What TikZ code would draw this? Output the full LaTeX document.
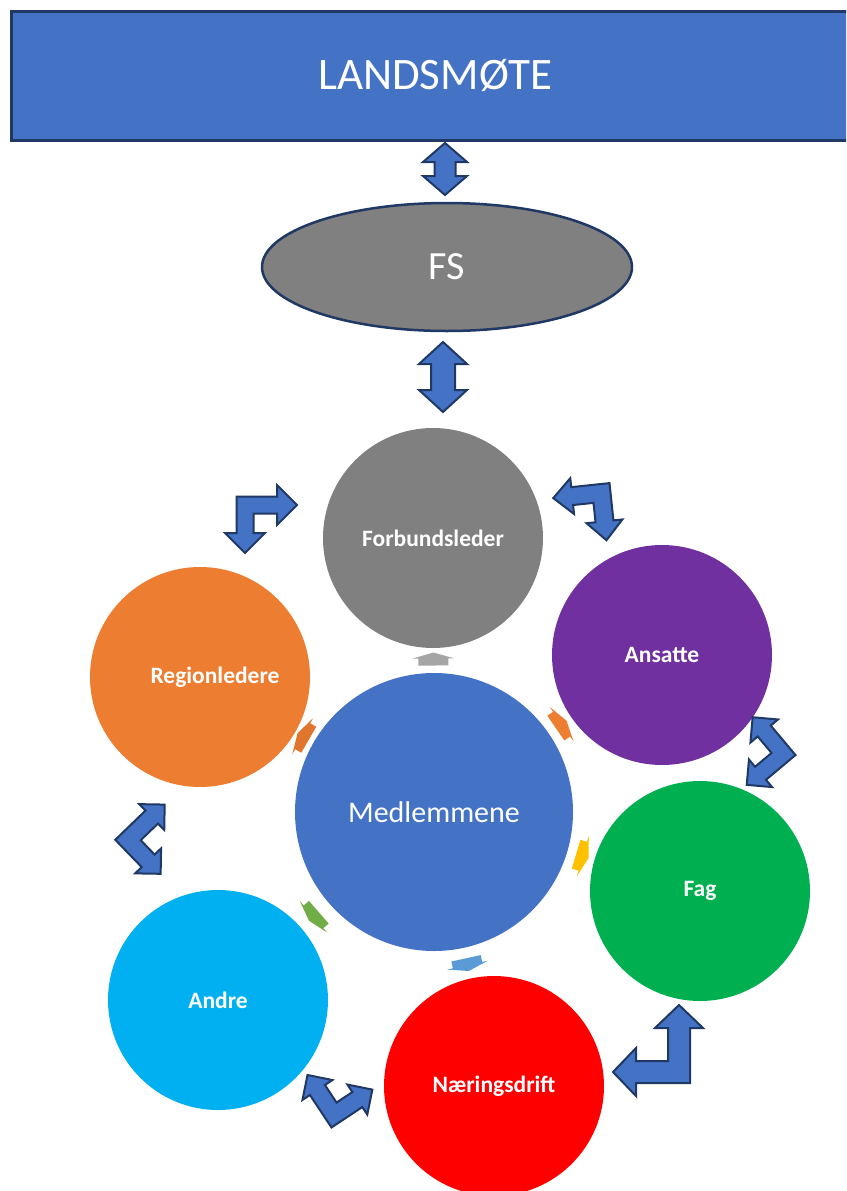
\documentclass[tikz,border=0pt]{standalone}
\usepackage{fontspec}
\setmainfont{Carlito}
\usetikzlibrary{calc,shapes.geometric}
\definecolor{acc}{HTML}{4472C4}
\definecolor{navy}{HTML}{203864}
\definecolor{fsgray}{HTML}{808080}
\definecolor{cgray}{HTML}{808080}
\definecolor{cpurple}{HTML}{7030A0}
\definecolor{cgreen}{HTML}{00B050}
\definecolor{cred}{HTML}{FF0000}
\definecolor{ccyan}{HTML}{00B0F0}
\definecolor{corange}{HTML}{ED7D31}
\definecolor{sgray}{HTML}{A5A5A5}
\definecolor{sorange}{HTML}{ED7D31}
\definecolor{syellow}{HTML}{FFC000}
\definecolor{sblue}{HTML}{5B9BD5}
\definecolor{sgreen}{HTML}{70AD47}
\definecolor{sorange2}{HTML}{E0762E}
\newcommand\dblarrow[6]{% cx, ytop, ybot, w, h, k
  \draw[blk] (#1,#2) -- (#1+#5,#2+#6) -- (#1+#4,#2+#6) -- (#1+#4,#3-#6) -- (#1+#5,#3-#6) -- (#1,#3)
    -- (#1-#5,#3-#6) -- (#1-#4,#3-#6) -- (#1-#4,#2+#6) -- (#1-#5,#2+#6) -- cycle;}
\newcommand\bentarrow[8]{% corner, angle u, angle v, L1, L2, w, h, k
  \begin{scope}[shift={#1}, x={(#2:1pt)}, y={(#3:1pt)}]
  \draw[blk] (-#6,-#6) -- (#4-#8,-#6) -- (#4-#8,-#7) -- (#4,0) -- (#4-#8,#7) -- (#4-#8,#6)
    -- (#6,#6) -- (#6,#5-#8) -- (#7,#5-#8) -- (0,#5) -- (-#7,#5-#8) -- (-#6,#5-#8) -- cycle;
  \end{scope}}
\newcommand\radarrow[3]{% target node, target radius, colour
  \pgfmathanglebetweenpoints{\pgfpointanchor{M}{center}}{\pgfpointanchor{#1}{center}}%
  \let\raang\pgfmathresult
  \coordinate (ra1) at ($(M.center)!139pt!(#1.center)$);
  \coordinate (ra2) at ($(#1.center)!#2pt!(M.center)$);
  \begin{scope}[shift={($(ra1)!0.5!(ra2)$)}, rotate=\raang]
  \fill[#3] (-5,-15) -- (2,-15) -- (2,-21) -- (8,0) -- (2,21) -- (2,15) -- (-5,15) -- cycle;
  \end{scope}}
\begin{document}
\begin{tikzpicture}[x=1pt,y=-1pt,
  blk/.style={fill=acc,draw=navy,line width=2pt,line join=miter},
  circ/.style={circle,inner sep=0pt,minimum size=220pt,draw=none},
  lbl/.style={text=white,font=\bfseries\fontsize{23.5}{28}\selectfont}]
\useasboundingbox (0,0) rectangle (846,1191);
\begin{scope}
\clip (0,0) rectangle (846,1191);
\node[rectangle,draw=navy,fill=acc,line width=3pt,minimum width=849pt,minimum height=129pt,
  text=white,font=\fontsize{45}{54}\selectfont] (LM) at (435.5,75.5) {LANDSMØTE};
\node[ellipse,draw=navy,fill=fsgray,line width=2.5pt,minimum width=370pt,minimum height=128pt,
  text=white,font=\fontsize{40}{48}\selectfont] (FS) at (447,267) {FS};
\node[circ,fill=cgray,lbl] (F) at (433,538) {Forbundsleder};
\node[circ,fill=cpurple,lbl] (A) at (662,655) {Ansatte};
\node[circ,fill=cgreen,lbl] (Fa) at (700,891) {Fag};
\node[circ,fill=cred,lbl] (N) at (494,1086) {Næringsdrift};
\node[circ,fill=ccyan,lbl] (An) at (218,1000) {Andre};
\node[circ,fill=corange] (R) at (200,677) {};
\node[lbl] (Rt) at (215,677) {Regionledere};
\node[circle,inner sep=0pt,minimum size=278pt,fill=acc,text=white,font=\fontsize{30}{36}\selectfont] (M) at (434,812) {Medlemmene};
\radarrow{F}{110}{sgray}
\radarrow{A}{110}{sorange}
\radarrow{Fa}{110}{syellow}
\radarrow{N}{110}{sblue}
\radarrow{An}{110}{sgreen}
\radarrow{R}{110}{sorange2}
\dblarrow{445}{143}{195}{10.5}{22}{19}
\dblarrow{443}{342}{412}{12}{24}{22}
\bentarrow{(245,505)}{0}{-90}{52}{48}{8.5}{20}{20}
\bentarrow{(601.5,493)}{186}{-84}{48.5}{47.5}{9}{18}{19}
\bentarrow{(783.5,754)}{130}{-140}{48}{48}{8.5}{18}{18}
\bentarrow{(128,840)}{44}{-46}{51}{47}{9}{18}{18}
\bentarrow{(679,1072)}{90}{180}{67}{66}{11}{24}{23}
\bentarrow{(334,1115)}{123.5}{33.5}{48}{46}{9}{18}{18}
\end{scope}
\end{tikzpicture}
\end{document}
